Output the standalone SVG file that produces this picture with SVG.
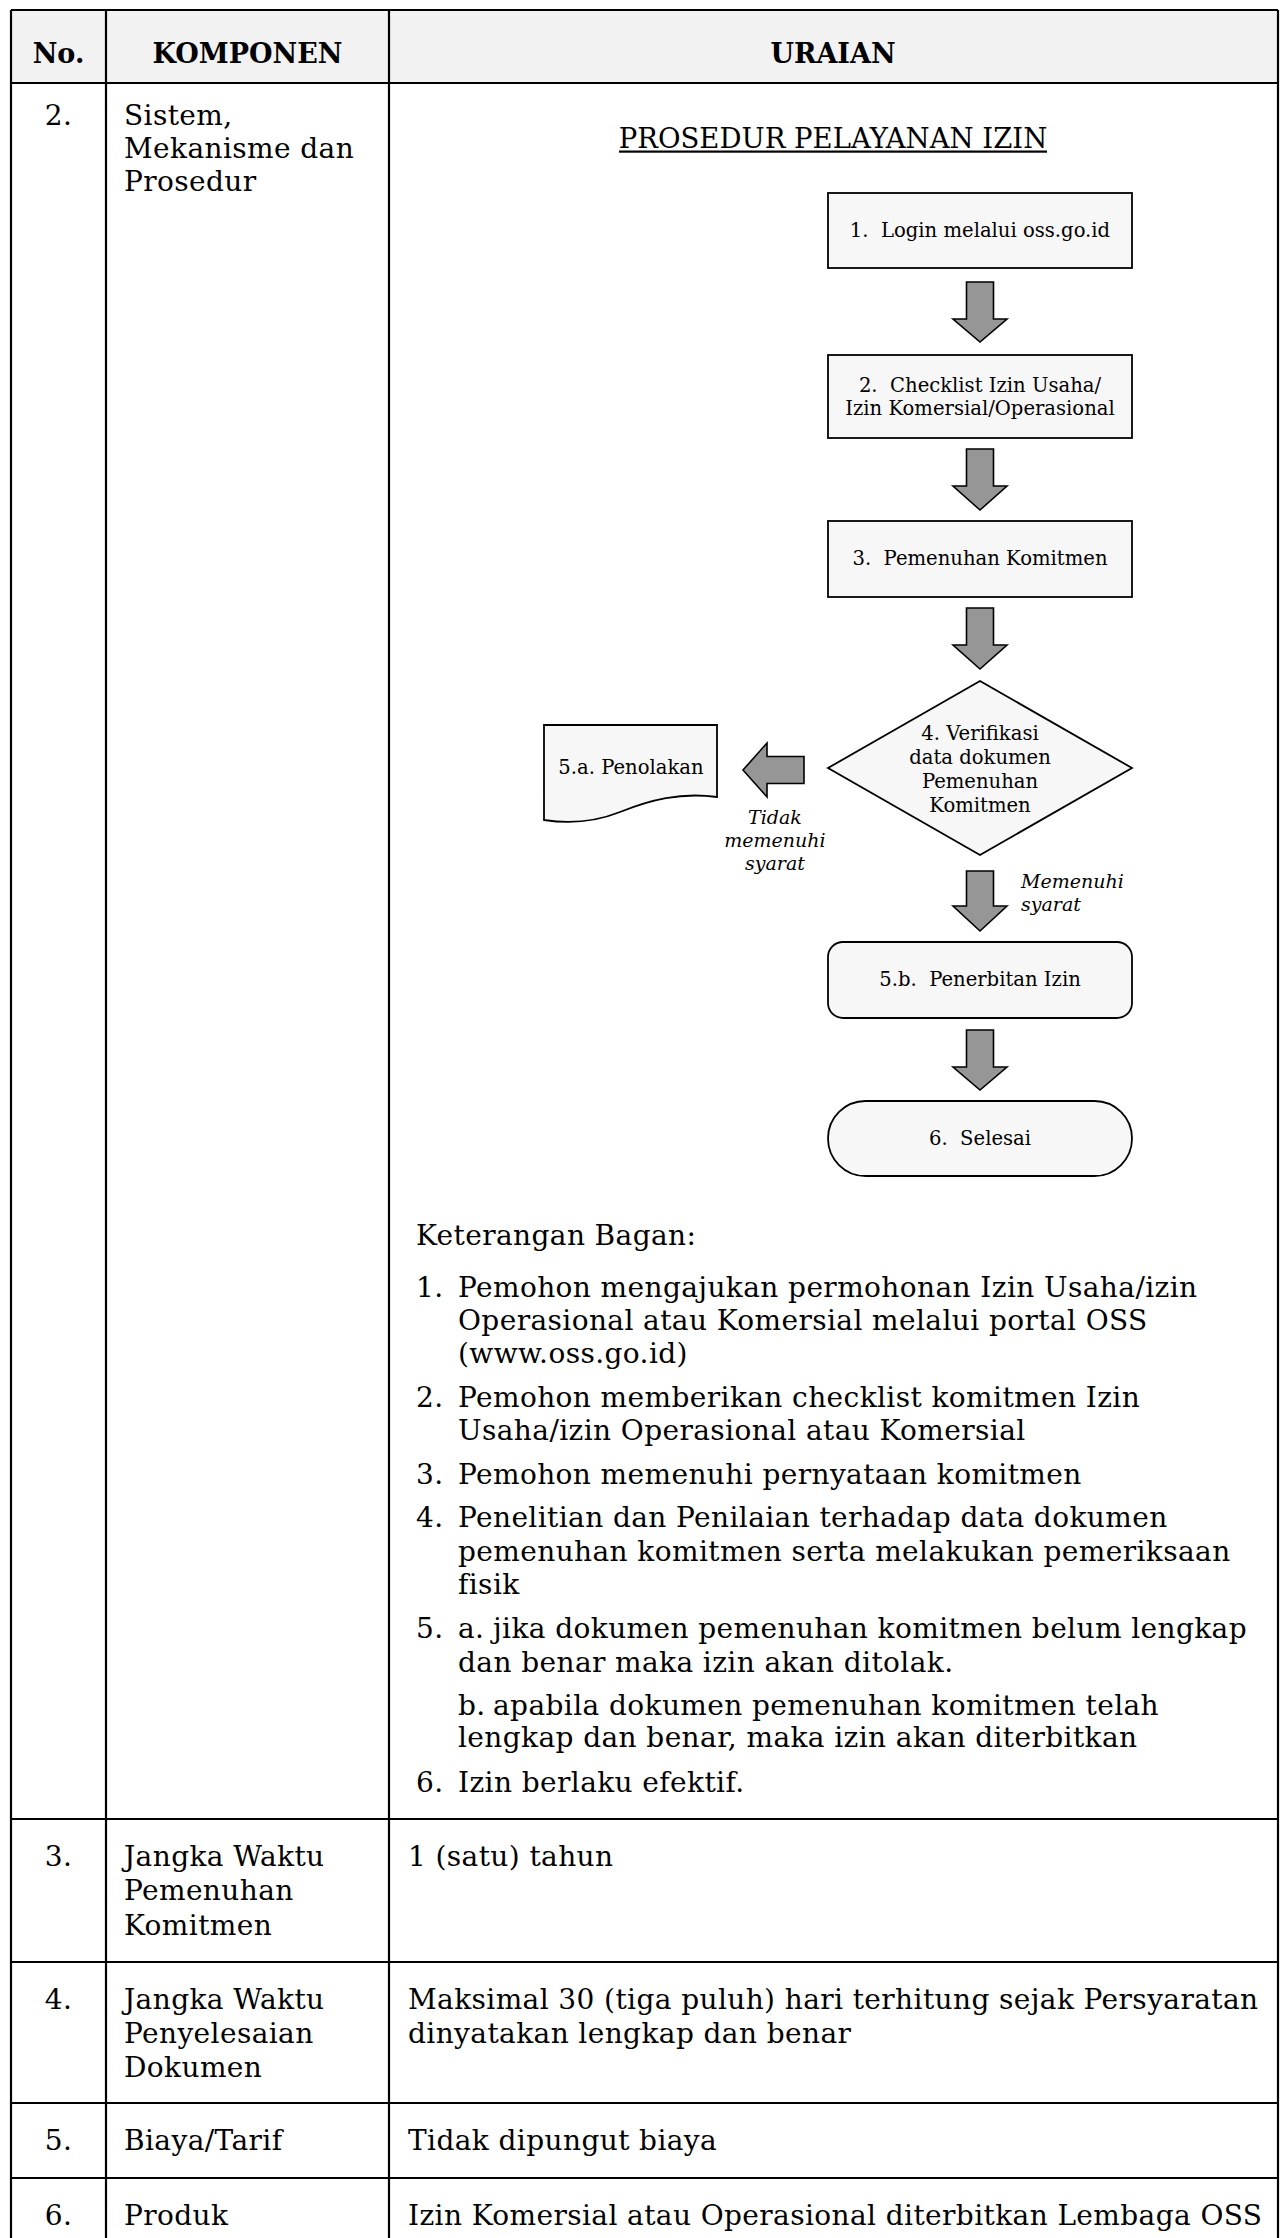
<svg xmlns="http://www.w3.org/2000/svg" width="1287" height="2238" viewBox="0 0 1287 2238">
<style>
text{font-family:"DejaVu Serif","Liberation Serif",serif;fill:#000}
.b{font-size:28px;letter-spacing:0.4px}
.t{font-size:27.5px}
.h{font-size:27px;font-weight:bold;text-anchor:middle}
.c{text-anchor:middle}
.f{font-size:19.6px}
.fi{font-size:19px;font-style:italic}
.grid{stroke:#000;stroke-width:2.2;fill:none}
.shape{fill:#f7f7f7;stroke:#000;stroke-width:1.8}
.arr{fill:#969696;stroke:#000;stroke-width:1.6;stroke-linejoin:miter}
</style>
<rect x="0" y="0" width="1287" height="2238" fill="#fff"/>
<g id="table">
<rect x="11" y="10" width="1267" height="73" fill="#f2f2f2"/>
<path class="grid" d="M11,10 H1278 M11,10 V2238 M1278,10 V2238 M106,10 V2238 M389,10 V2238 M11,83 H1278 M11,1819 H1278 M11,1962 H1278 M11,2103 H1278 M11,2178 H1278"/>
<text class="h" x="58.5" y="63">No.</text>
<text class="h" x="247.5" y="63">KOMPONEN</text>
<text class="h" x="833" y="63">URAIAN</text>
<text class="b c" x="58.5" y="125">2.</text>
<text class="b" x="124" y="125">Sistem,</text>
<text class="b" x="124" y="158">Mekanisme dan</text>
<text class="b" x="124" y="191">Prosedur</text>
<text class="b c" x="58.5" y="1866">3.</text>
<text class="b" x="124" y="1866">Jangka Waktu</text>
<text class="b" x="124" y="1900">Pemenuhan</text>
<text class="b" x="124" y="1935">Komitmen</text>
<text class="b" x="408" y="1866">1 (satu) tahun</text>
<text class="b c" x="58.5" y="2009">4.</text>
<text class="b" x="124" y="2009">Jangka Waktu</text>
<text class="b" x="124" y="2043">Penyelesaian</text>
<text class="b" x="124" y="2077">Dokumen</text>
<text class="b" x="408" y="2009">Maksimal 30 (tiga puluh) hari terhitung sejak Persyaratan</text>
<text class="b" x="408" y="2043">dinyatakan lengkap dan benar</text>
<text class="b c" x="58.5" y="2150">5.</text>
<text class="b" x="124" y="2150">Biaya/Tarif</text>
<text class="b" x="408" y="2150">Tidak dipungut biaya</text>
<text class="b c" x="58.5" y="2225">6.</text>
<text class="b" x="124" y="2225">Produk</text>
<text class="b" x="408" y="2225">Izin Komersial atau Operasional diterbitkan Lembaga OSS</text>
</g>
<g id="title">
<text class="t c" x="833" y="148">PROSEDUR PELAYANAN IZIN</text>
<rect x="619" y="150.5" width="428" height="2.2" fill="#000"/>
</g>
<g id="connectors">
<path class="arr" d="M966.5,282 H993.5 V319 H1007 L980,342 L953,319 H966.5 Z"/>
<path class="arr" d="M966.5,449 H993.5 V486 H1007 L980,510 L953,486 H966.5 Z"/>
<path class="arr" d="M966.5,608 H993.5 V645 H1007 L980,669 L953,645 H966.5 Z"/>
<path class="arr" d="M804,756.5 V783.5 H767 V797 L743,770 L767,743 V756.5 Z"/>
<path class="arr" d="M966.5,871 H993.5 V906 H1007 L980,931 L953,906 H966.5 Z"/>
<path class="arr" d="M966.5,1030 H993.5 V1067 H1007 L980,1090 L953,1067 H966.5 Z"/>
<text class="fi c" x="775" y="824">Tidak</text>
<text class="fi c" x="775" y="847">memenuhi</text>
<text class="fi c" x="775" y="870">syarat</text>
<text class="fi" x="1021" y="888">Memenuhi</text>
<text class="fi" x="1021" y="911">syarat</text>
</g>
<g id="n1">
<rect class="shape" x="828" y="193" width="304" height="75"/>
<text class="f c" x="980" y="237" xml:space="preserve">1.  Login melalui oss.go.id</text>
</g>
<g id="n2">
<rect class="shape" x="828" y="355" width="304" height="83"/>
<text class="f c" x="980" y="392" xml:space="preserve">2.  Checklist Izin Usaha/</text>
<text class="f c" x="980" y="415">Izin Komersial/Operasional</text>
</g>
<g id="n3">
<rect class="shape" x="828" y="521" width="304" height="76"/>
<text class="f c" x="980" y="565" xml:space="preserve">3.  Pemenuhan Komitmen</text>
</g>
<g id="n4">
<polygon class="shape" points="980,681 1132,768 980,855 828,768"/>
<text class="f c" x="980" y="740">4. Verifikasi</text>
<text class="f c" x="980" y="764">data dokumen</text>
<text class="f c" x="980" y="788">Pemenuhan</text>
<text class="f c" x="980" y="812">Komitmen</text>
</g>
<g id="n5a">
<path class="shape" d="M544,725 H717 V797 C680,792 650,800 620,812 C595,822 570,824 544,820 Z"/>
<text class="f c" x="631" y="774">5.a. Penolakan</text>
</g>
<g id="n5b">
<rect class="shape" x="828" y="942" width="304" height="76" rx="15"/>
<text class="f c" x="980" y="986" xml:space="preserve">5.b.  Penerbitan Izin</text>
</g>
<g id="n6">
<rect class="shape" x="828" y="1101" width="304" height="75" rx="37.5"/>
<text class="f c" x="980" y="1145" xml:space="preserve">6.  Selesai</text>
</g>
<g id="legend">
<text class="b" x="416" y="1245">Keterangan Bagan:</text>
<text class="b" x="416" y="1297">1.</text>
<text class="b" x="458" y="1297">Pemohon mengajukan permohonan Izin Usaha/izin</text>
<text class="b" x="458" y="1330">Operasional atau Komersial melalui portal OSS</text>
<text class="b" x="458" y="1363">(www.oss.go.id)</text>
<text class="b" x="416" y="1407">2.</text>
<text class="b" x="458" y="1407">Pemohon memberikan checklist komitmen Izin</text>
<text class="b" x="458" y="1440">Usaha/izin Operasional atau Komersial</text>
<text class="b" x="416" y="1484">3.</text>
<text class="b" x="458" y="1484">Pemohon memenuhi pernyataan komitmen</text>
<text class="b" x="416" y="1527">4.</text>
<text class="b" x="458" y="1527">Penelitian dan Penilaian terhadap data dokumen</text>
<text class="b" x="458" y="1561">pemenuhan komitmen serta melakukan pemeriksaan</text>
<text class="b" x="458" y="1594">fisik</text>
<text class="b" x="416" y="1638">5.</text>
<text class="b" x="458" y="1638">a.</text>
<text class="b" x="493" y="1638">jika dokumen pemenuhan komitmen belum lengkap</text>
<text class="b" x="458" y="1672">dan benar maka izin akan ditolak.</text>
<text class="b" x="458" y="1715">b.</text>
<text class="b" x="493" y="1715">apabila dokumen pemenuhan komitmen telah</text>
<text class="b" x="458" y="1747">lengkap dan benar, maka izin akan diterbitkan</text>
<text class="b" x="416" y="1792">6.</text>
<text class="b" x="458" y="1792">Izin berlaku efektif.</text>
</g>
</svg>
